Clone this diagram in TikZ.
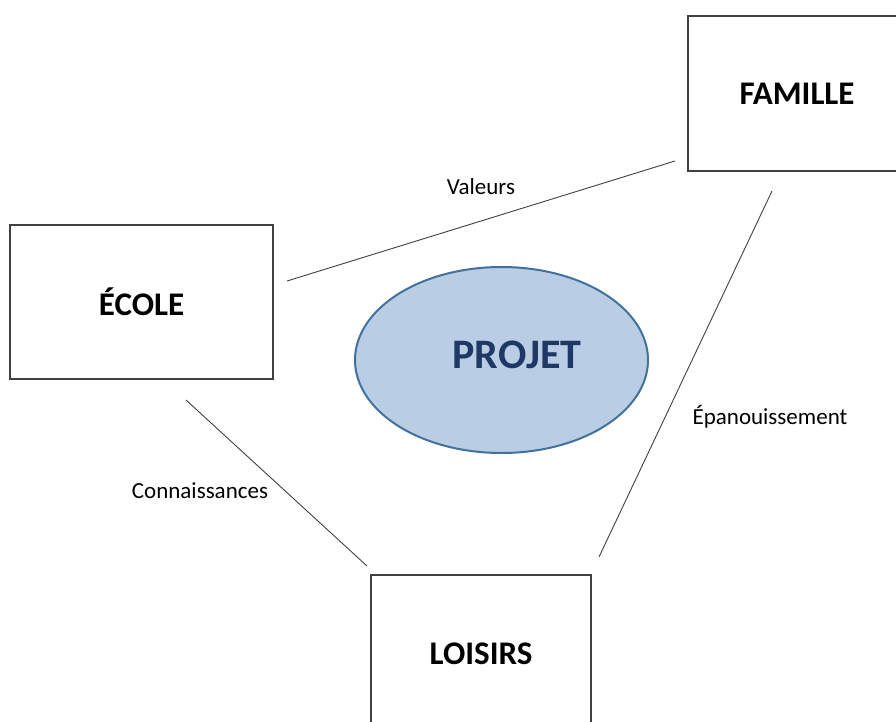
\documentclass[tikz,border=0pt]{standalone}
\usepackage{fontspec}
\setmainfont{Carlito}
\usetikzlibrary{shapes.geometric}
\definecolor{ellfill}{HTML}{B9CDE5}
\definecolor{elldraw}{HTML}{41719C}
\definecolor{elltext}{HTML}{1F3864}
\definecolor{linegray}{HTML}{404040}
\tikzset{
  box/.style={draw=linegray, line width=1.1pt, fill=white, inner sep=0pt, font=\fontsize{33}{37}\selectfont\bfseries},
  conn/.style={draw=linegray, line width=0.9pt},
  lbl/.style={font=\fontsize{23}{26}\selectfont, text=black, inner sep=0pt}
}
\begin{document}
\begin{tikzpicture}[x=1pt,y=-1pt]
\useasboundingbox (0,0) rectangle (896,722);
\node[box, minimum width=263pt, minimum height=154pt] (ecole) at (141.5,302) {ÉCOLE};
\node[box, minimum width=218pt, minimum height=155pt] (famille) at (797,93.5) {FAMILLE};
\node[box, minimum width=220pt, minimum height=158pt] (loisirs) at (481,654) {LOISIRS};
\node[ellipse, draw=elldraw, fill=ellfill, line width=2pt, minimum width=293pt, minimum height=186pt] (projet) at (501.5,360) {};
\node[font=\fontsize{42}{46}\selectfont\bfseries, text=elltext, inner sep=0pt] (projtxt) at (517,355) {PROJET};
\coordinate (ve) at (287,281);
\coordinate (vf) at (675,161);
\coordinate (ef) at (772,191);
\coordinate (el) at (599,557);
\coordinate (ce) at (186,400);
\coordinate (cl) at (367,566);
\draw[conn] (ve) -- (vf);
\draw[conn] (ef) -- (el);
\draw[conn] (ce) -- (cl);
\node[lbl] (valeurs) at (481,187) {Valeurs};
\node[lbl] (epan) at (770,417) {Épanouissement};
\node[lbl] (conn) at (200,491) {Connaissances};
\end{tikzpicture}
\end{document}
